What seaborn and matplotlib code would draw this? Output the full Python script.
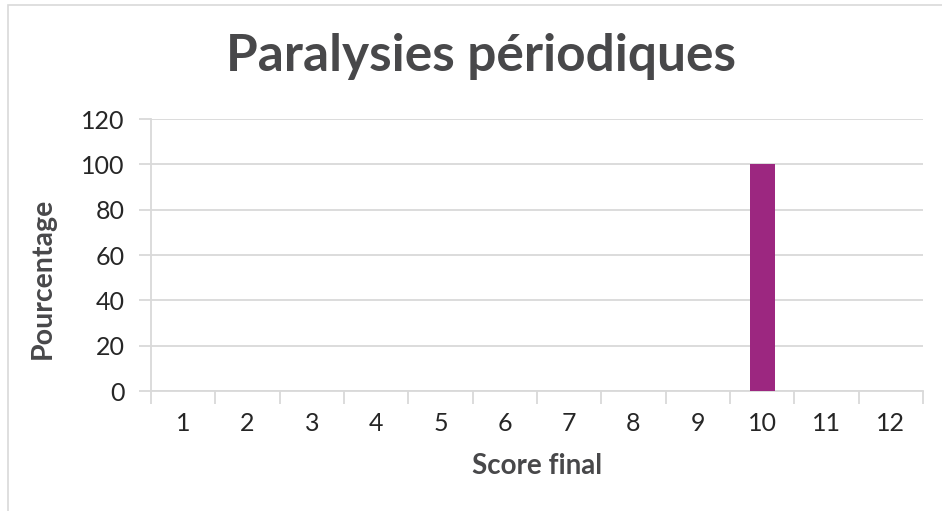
import pandas as pd
import matplotlib.pyplot as plt
import seaborn as sns
from matplotlib.patches import Rectangle
from matplotlib.ticker import FixedLocator

# data
scores = [str(i) for i in range(1, 13)]
percentages = [0, 0, 0, 0, 0, 0, 0, 0, 0, 100, 0, 0]
y_ticks = [0, 20, 40, 60, 80, 100, 120]

df = pd.DataFrame({"Score final": scores, "Pourcentage": percentages})

sns.set_theme(style="white")
plt.rcParams['font.family'] = ['Lato', 'DejaVu Sans']

grid_col = "#d9d9d9"
fig = plt.figure(figsize=(9.42, 5.11), dpi=100)
ax = fig.add_axes([0.1603, 0.2348, 0.8195, 0.5323])

sns.barplot(data=df, x="Score final", y="Pourcentage", order=scores,
            color="#9c2780", width=0.39, saturation=1, linewidth=0,
            ax=ax, zorder=3)

ax.set_ylim(0, 120)
ax.set_yticks(y_ticks)
ax.set_xlim(-0.5, 11.5)
ax.yaxis.grid(True, color=grid_col, linewidth=1.3)
ax.set_axisbelow(True)

for side in ["top", "right"]:
    ax.spines[side].set_visible(False)
for side in ["left", "bottom"]:
    ax.spines[side].set_color(grid_col)
    ax.spines[side].set_linewidth(1.3)

ax.tick_params(axis="y", length=9, width=1.3, color=grid_col, labelsize=18,
               labelcolor="#262626", pad=10, left=True)
ax.tick_params(axis="x", which="major", length=0, labelsize=18,
               labelcolor="#262626", pad=15)
ax.xaxis.set_minor_locator(FixedLocator([i - 0.5 for i in range(13)]))
ax.tick_params(axis="x", which="minor", length=9, width=1.3, color=grid_col,
               bottom=True)

ax.set_xlabel("Score final", fontsize=20, fontweight="bold", color="#48484a", labelpad=13)
ax.set_ylabel("Pourcentage", fontsize=20.5, fontweight="bold", color="#48484a")
ax.yaxis.set_label_coords(-0.123, 0.415)
fig.suptitle("Paralysies périodiques", x=0.511, y=1 - 57 / 511, va="center",
             fontsize=37, fontweight="bold", color="#48484a")

# light frame around the chart area
fig.patches.append(Rectangle((8 / 942, -0.1), 1.2, 1.1 - 5 / 511,
                             transform=fig.transFigure, fill=False,
                             edgecolor="#d9d9d9", linewidth=1.2))

fig.savefig("out.png", dpi=100)
